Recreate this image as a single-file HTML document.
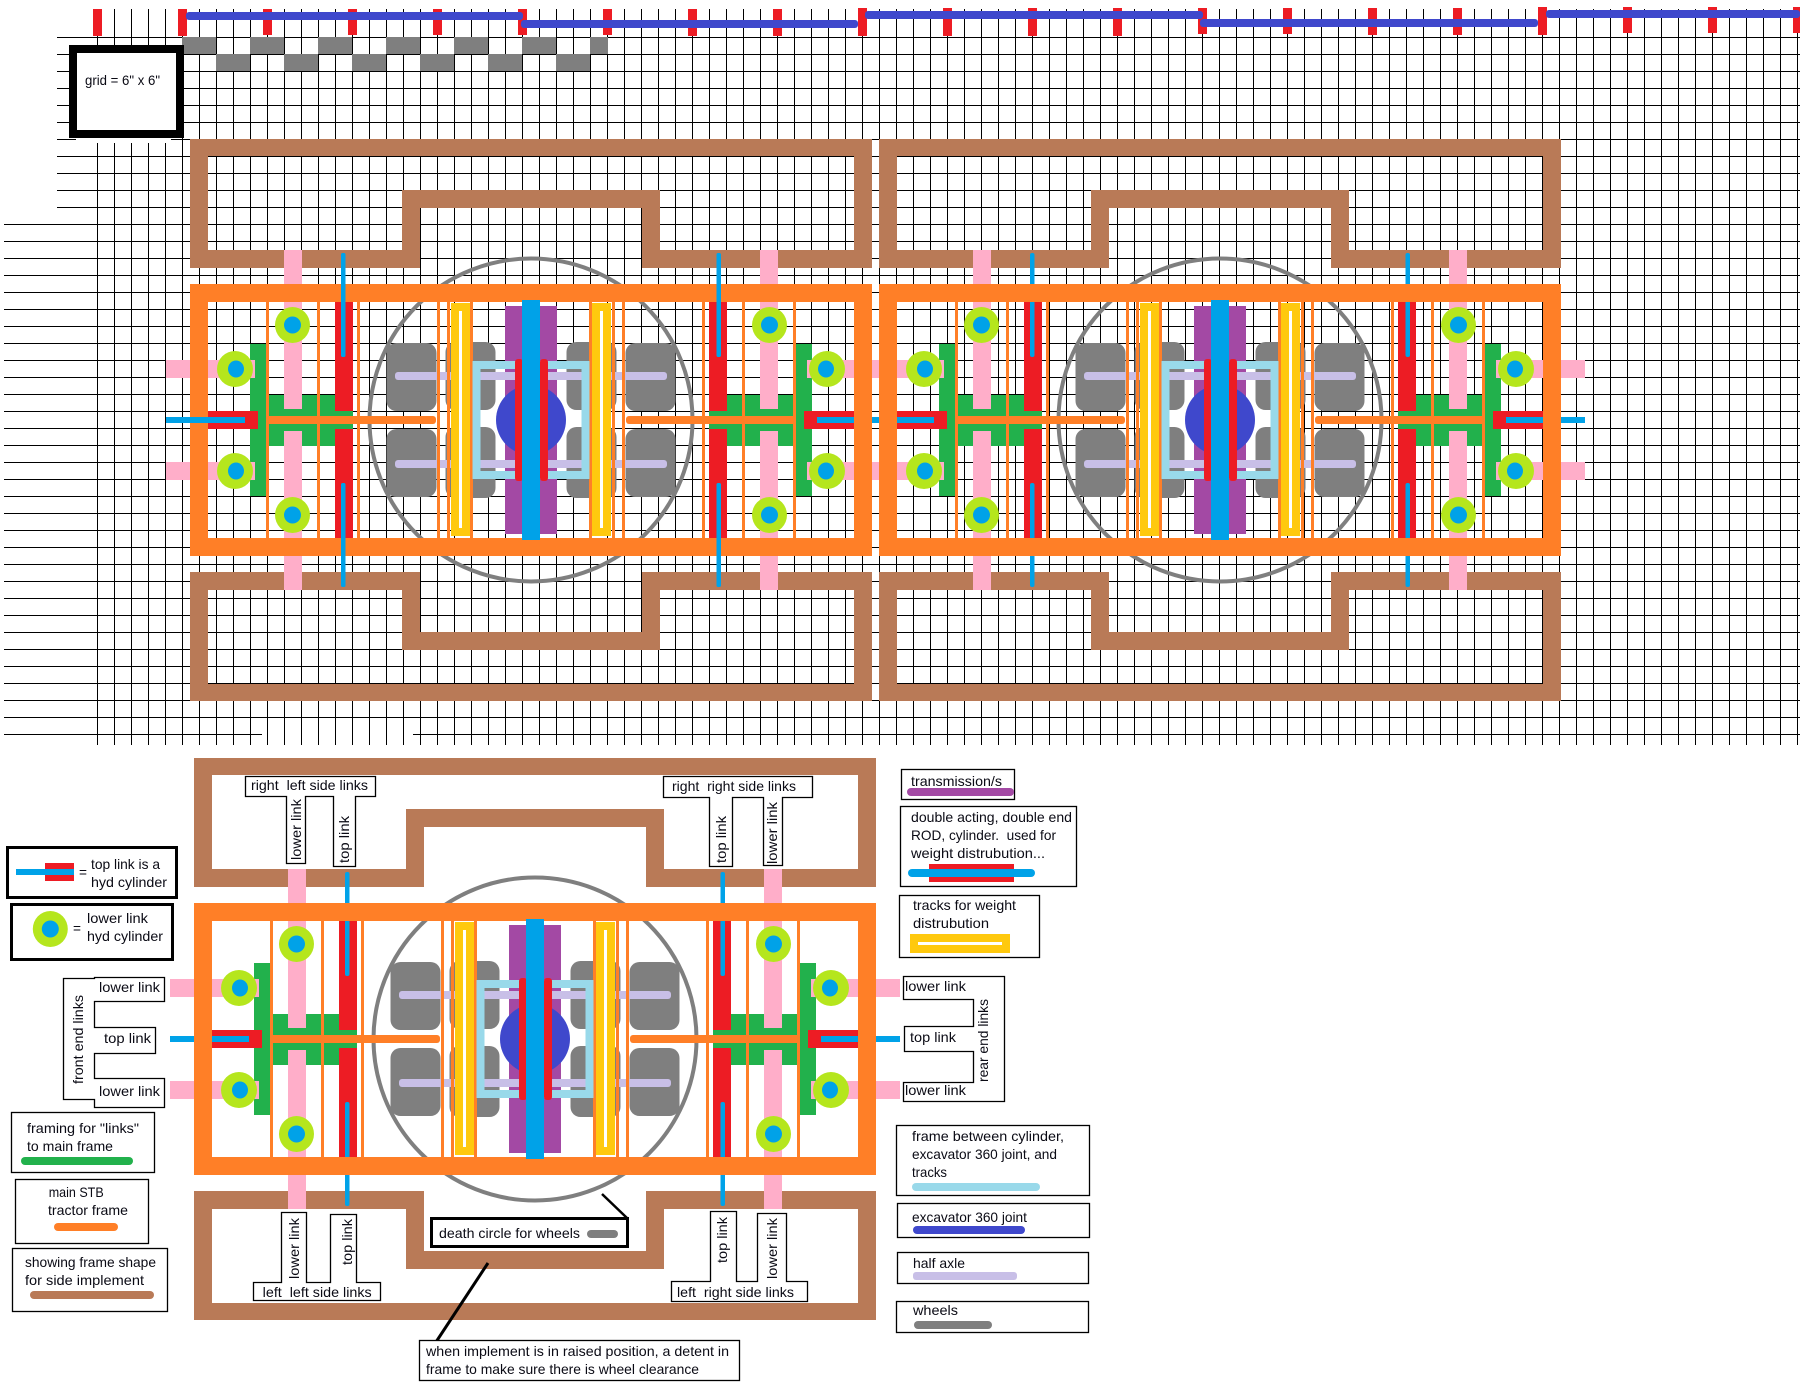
<!DOCTYPE html>
<html><head><meta charset="utf-8"><title>Diagram</title>
<style>
html,body{margin:0;padding:0;background:#fff}
svg{display:block}
text{font-family:"Liberation Sans",sans-serif;font-size:14px;fill:#0a0a14;white-space:pre}
.b{fill:#fff;stroke:#000;stroke-width:1.3}
.t{fill:#fff;stroke:#000;stroke-width:3}
</style></head><body>
<svg xmlns="http://www.w3.org/2000/svg" width="1800" height="1388" viewBox="0 0 1800 1388">
<defs>
<pattern id="gv" x="97" y="0" width="17" height="17" patternUnits="userSpaceOnUse"><rect width="1" height="17" fill="#000"/></pattern>
<pattern id="gh" x="0" y="37" width="17" height="17" patternUnits="userSpaceOnUse"><rect width="17" height="1" fill="#000"/></pattern>

<g id="brown" fill="#b97a57">
<rect x="190" y="139" width="682" height="17"/><rect x="190" y="139" width="18" height="129"/><rect x="854" y="139" width="18" height="129"/>
<rect x="190" y="250" width="230" height="18"/><rect x="642" y="250" width="230" height="18"/>
<rect x="402" y="190" width="258" height="18"/><rect x="402" y="190" width="18" height="78"/><rect x="642" y="190" width="18" height="78"/>
<rect x="190" y="572" width="230" height="18"/><rect x="642" y="572" width="230" height="18"/>
<rect x="190" y="572" width="18" height="129"/><rect x="854" y="572" width="18" height="129"/>
<rect x="190" y="684" width="682" height="17"/>
<rect x="402" y="632" width="258" height="18"/><rect x="402" y="572" width="18" height="78"/><rect x="642" y="572" width="18" height="78"/>
</g>

<g id="aL">
<rect x="250" y="344" width="16" height="152" fill="#22b14c"/>
<rect x="266" y="395" width="87" height="51" fill="#22b14c"/>
<rect x="284" y="250" width="18" height="159" fill="#ffaec9"/>
<rect x="284" y="431" width="18" height="159" fill="#ffaec9"/>
<rect x="166" y="360" width="89" height="18" fill="#ffaec9"/>
<rect x="166" y="462" width="89" height="18" fill="#ffaec9"/>
</g>

<g id="wL" fill="#7f7f7f">
<rect x="386.500" y="343" width="50" height="68" rx="10"/>
<rect x="386.500" y="429" width="50" height="68" rx="10"/>
<rect x="445.500" y="342" width="50" height="68" rx="10"/>
<rect x="445.500" y="427" width="50" height="71" rx="10"/>
</g>

<g id="cL">
<rect x="335" y="302" width="18" height="109" fill="#ed1c24"/>
<rect x="335" y="429" width="18" height="109" fill="#ed1c24"/>
<rect x="208" y="411" width="50" height="18" fill="#ed1c24"/>
<rect x="266" y="302" width="3" height="236" fill="#ff7f27"/>
<rect x="317" y="302" width="3" height="236" fill="#ff7f27"/>
<rect x="357" y="302" width="3" height="236" fill="#ff7f27"/>
<rect x="437" y="302" width="3" height="236" fill="#ff7f27"/>
<rect x="447" y="302" width="3" height="236" fill="#ff7f27"/>
<rect x="470" y="302" width="3" height="236" fill="#ff7f27"/>
<rect x="266" y="416" width="170" height="8" rx="3" fill="#ff7f27"/>
<rect x="451" y="303" width="19" height="233" fill="#ffc90e"/>
<rect x="459" y="311" width="3" height="217" fill="#fff"/>
<ellipse cx="292.500" cy="325" rx="17.500" ry="18" fill="#b5e61d"/><circle cx="292.500" cy="325" r="8.500" fill="#00a2e8"/>
<ellipse cx="292.500" cy="515" rx="17.500" ry="18" fill="#b5e61d"/><circle cx="292.500" cy="515" r="8.500" fill="#00a2e8"/>
<ellipse cx="235" cy="369" rx="18" ry="18" fill="#b5e61d"/><ellipse cx="236" cy="369" rx="8" ry="8.500" fill="#00a2e8"/>
<ellipse cx="235" cy="471" rx="18" ry="18" fill="#b5e61d"/><ellipse cx="236" cy="471" rx="8" ry="8.500" fill="#00a2e8"/>
</g>

<g id="rv" fill="#00a2e8">
<rect x="341" y="253" width="4.500" height="104" rx="2"/>
<rect x="341" y="483" width="4.500" height="104" rx="2"/>
</g>
<rect id="rh" x="166" y="417" width="79" height="6" fill="#00a2e8"/>

<g id="under">
<use href="#brown"/>
<use href="#aL"/>
<use href="#aL" transform="translate(1062,0) scale(-1,1)"/>
</g>

<g id="mid">
<circle cx="531" cy="420" r="161.500" fill="none" stroke="#7f7f7f" stroke-width="4"/>
<rect x="473" y="361" width="116" height="118" fill="#fff"/>
<use href="#wL"/><use href="#wL" transform="translate(1062,0) scale(-1,1)"/>
<rect x="505" y="306" width="52" height="228" fill="#a349a4"/>
<circle cx="531" cy="420" r="35" fill="#3f48cc"/>
<rect x="395" y="372" width="272" height="8" rx="3" fill="#c8bfe7"/>
<rect x="395" y="460" width="272" height="8" rx="3" fill="#c8bfe7"/>
<use href="#cL"/><use href="#cL" transform="translate(1062,0) scale(-1,1)"/>
<rect x="476.500" y="365" width="109" height="110" fill="none" stroke="#99d9ea" stroke-width="8"/>
<rect x="515" y="359" width="8" height="122" rx="3" fill="#ed1c24"/>
<rect x="540" y="359" width="8" height="122" rx="3" fill="#ed1c24"/>
</g>

<g id="rods">
<use href="#rv"/><use href="#rv" transform="translate(1062,0) scale(-1,1)"/>
<use href="#rh"/><use href="#rh" transform="translate(1062,0) scale(-1,1)"/>
</g>

<g id="frame">
<path fill="#ff7f27" fill-rule="evenodd" d="M190 284H872V556H190ZM208 302V538H854V302Z"/>
<rect x="522" y="300" width="18" height="240" fill="#00a2e8"/>
</g>
</defs>

<rect width="1800" height="1388" fill="#fff"/>

<!-- grid -->
<rect x="97" y="9" width="1703" height="736" fill="url(#gv)"/>
<rect x="57" y="37" width="1743" height="171" fill="url(#gh)"/>
<rect x="4" y="224" width="1796" height="510" fill="url(#gh)"/>
<rect x="4" y="734" width="258" height="1" fill="#000"/>
<rect x="413" y="734" width="1387" height="1" fill="#000"/>

<!-- checker -->
<g fill="#7f7f7f">
<rect x="182" y="37" width="34" height="17"/><rect x="250" y="37" width="34" height="17"/><rect x="318" y="37" width="34" height="17"/><rect x="386" y="37" width="34" height="17"/><rect x="454" y="37" width="34" height="17"/><rect x="522" y="37" width="34" height="17"/><rect x="590" y="37" width="18" height="17"/>
<rect x="216" y="54" width="34" height="17"/><rect x="284" y="54" width="34" height="17"/><rect x="352" y="54" width="34" height="17"/><rect x="420" y="54" width="34" height="17"/><rect x="488" y="54" width="34" height="17"/><rect x="556" y="54" width="34" height="17"/>
</g>

<!-- top ticks and bars -->
<g fill="#ed1c24">
<rect x="93" y="9" width="9" height="27"/><rect x="178" y="9" width="9" height="27"/><rect x="263" y="9" width="9" height="26"/><rect x="348" y="9" width="9" height="26"/><rect x="433" y="9" width="9" height="26"/><rect x="518" y="9" width="9" height="26"/>
<rect x="603" y="9" width="9" height="26"/><rect x="688" y="9" width="9" height="27"/><rect x="773" y="9" width="9" height="27"/><rect x="858" y="8" width="9" height="28"/>
<rect x="943" y="8" width="9" height="28"/><rect x="1028" y="8" width="9" height="28"/><rect x="1113" y="8" width="9" height="28"/><rect x="1198" y="8" width="9" height="26"/>
<rect x="1283" y="8" width="9" height="26"/><rect x="1368" y="8" width="9" height="27"/><rect x="1453" y="8" width="9" height="27"/><rect x="1538" y="7" width="9" height="28"/>
<rect x="1623" y="7" width="9" height="26"/><rect x="1708" y="7" width="9" height="26"/><rect x="1793" y="7" width="7" height="26"/>
</g>
<g fill="#3f48cc">
<rect x="186" y="12" width="337" height="8" rx="3"/>
<rect x="521" y="20" width="337" height="8" rx="3"/>
<rect x="865" y="11" width="338" height="8" rx="3"/>
<rect x="1200" y="19" width="338" height="8" rx="3"/>
<rect x="1546" y="10" width="254" height="8" rx="3"/>
</g>

<!-- grid key box -->
<rect x="76" y="138" width="95" height="5" fill="#fff"/>
<rect x="73" y="49" width="107" height="85" fill="#fff" stroke="#000" stroke-width="8"/>
<text x="85" y="85" textLength="75" lengthAdjust="spacingAndGlyphs">grid = 6" x 6"</text>

<!-- three units -->
<use href="#under"/><use href="#under" x="689"/><use href="#under" x="4" y="619"/>
<use href="#mid"/><use href="#rods"/>
<use href="#mid" x="689"/><use href="#rods" x="689"/>
<use href="#mid" x="4" y="619"/><use href="#rods" x="4" y="619"/>
<use href="#frame"/><use href="#frame" x="689"/><use href="#frame" x="4" y="619"/>
<use href="#rv"/><use href="#rv" transform="translate(1062,0) scale(-1,1)"/><use href="#rh"/>

<!-- left legend -->
<rect class="t" x="7.500" y="847.500" width="169" height="50"/>
<rect x="45" y="863" width="29" height="18" fill="#ed1c24"/><rect x="16" y="869" width="58" height="6" fill="#00a2e8"/>
<text x="79" y="877" textLength="8" lengthAdjust="spacingAndGlyphs">=</text>
<text x="91" y="869" textLength="69" lengthAdjust="spacingAndGlyphs">top link is a</text>
<text x="91" y="887" textLength="76" lengthAdjust="spacingAndGlyphs">hyd cylinder</text>

<rect class="t" x="11.500" y="904.500" width="161" height="55"/>
<ellipse cx="50.300" cy="929" rx="17.500" ry="18" fill="#b5e61d"/><circle cx="50.300" cy="929" r="8.500" fill="#00a2e8"/>
<text x="73" y="933" textLength="8" lengthAdjust="spacingAndGlyphs">=</text>
<text x="87" y="923" textLength="61" lengthAdjust="spacingAndGlyphs">lower link</text>
<text x="87" y="941" textLength="76" lengthAdjust="spacingAndGlyphs">hyd cylinder</text>

<polygon class="b" points="63.500,978.500 94.500,978.500 94.500,977.500 164.500,977.500 164.500,1001.500 94.500,1001.500 94.500,1027.500 155.500,1027.500 155.500,1053.500 94.500,1053.500 94.500,1078.500 164.500,1078.500 164.500,1107.500 94.500,1107.500 94.500,1099.500 63.500,1099.500"/>
<text x="99" y="992" textLength="61" lengthAdjust="spacingAndGlyphs">lower link</text>
<text x="104" y="1043" textLength="47" lengthAdjust="spacingAndGlyphs">top link</text>
<text x="99" y="1096" textLength="61" lengthAdjust="spacingAndGlyphs">lower link</text>
<text transform="translate(83,1084) rotate(-90)" textLength="89" lengthAdjust="spacingAndGlyphs">front end links</text>

<rect class="b" x="11.500" y="1112.500" width="143" height="60"/>
<text x="27" y="1133" textLength="112" lengthAdjust="spacingAndGlyphs">framing for "links"</text>
<text x="27" y="1151" textLength="86" lengthAdjust="spacingAndGlyphs">to main frame</text>
<rect x="21" y="1157" width="112" height="8" rx="4" fill="#22b14c"/>

<rect class="b" x="15.500" y="1179.500" width="133" height="64"/>
<text x="48.700" y="1197" textLength="55" lengthAdjust="spacingAndGlyphs">main STB</text>
<text x="48" y="1215" textLength="80" lengthAdjust="spacingAndGlyphs">tractor frame</text>
<rect x="54" y="1223" width="64" height="8" rx="4" fill="#ff7f27"/>

<rect class="b" x="12.500" y="1248.500" width="155" height="63"/>
<text x="25" y="1267" textLength="131" lengthAdjust="spacingAndGlyphs">showing frame shape</text>
<text x="25" y="1285" textLength="119" lengthAdjust="spacingAndGlyphs">for side implement</text>
<rect x="30" y="1291" width="124" height="8" rx="4" fill="#b97a57"/>

<!-- side link T labels -->
<polygon class="b" points="245.500,776.500 375.500,776.500 375.500,796.500 355.500,796.500 355.500,866.500 333.500,866.500 333.500,796.500 305.500,796.500 305.500,863.500 286.500,863.500 286.500,796.500 245.500,796.500"/>
<text x="251" y="790" textLength="117" lengthAdjust="spacingAndGlyphs">right  left side links</text>
<text transform="translate(301,860) rotate(-90)" textLength="61" lengthAdjust="spacingAndGlyphs">lower link</text>
<text transform="translate(349,863) rotate(-90)" textLength="47" lengthAdjust="spacingAndGlyphs">top link</text>

<polygon class="b" points="663.500,776.500 812.500,776.500 812.500,797.500 782.500,797.500 782.500,865.500 763.500,865.500 763.500,797.500 732.500,797.500 732.500,866.500 709.500,866.500 709.500,797.500 663.500,797.500"/>
<text x="672" y="791" textLength="124" lengthAdjust="spacingAndGlyphs">right  right side links</text>
<text transform="translate(726,863) rotate(-90)" textLength="47" lengthAdjust="spacingAndGlyphs">top link</text>
<text transform="translate(777,864) rotate(-90)" textLength="62" lengthAdjust="spacingAndGlyphs">lower link</text>

<polygon class="b" points="281.500,1212.500 306.500,1212.500 306.500,1282.500 330.500,1282.500 330.500,1214.500 356.500,1214.500 356.500,1282.500 380.500,1282.500 380.500,1300.500 253.500,1300.500 253.500,1282.500 281.500,1282.500"/>
<text x="262.700" y="1297" textLength="109" lengthAdjust="spacingAndGlyphs">left  left side links</text>
<text transform="translate(299,1279) rotate(-90)" textLength="61" lengthAdjust="spacingAndGlyphs">lower link</text>
<text transform="translate(352,1265) rotate(-90)" textLength="46" lengthAdjust="spacingAndGlyphs">top link</text>

<polygon class="b" points="710.500,1211.500 736.500,1211.500 736.500,1281.500 757.500,1281.500 757.500,1213.500 786.500,1213.500 786.500,1281.500 807.500,1281.500 807.500,1301.500 671.500,1301.500 671.500,1281.500 710.500,1281.500"/>
<text x="677" y="1297" textLength="117" lengthAdjust="spacingAndGlyphs">left  right side links</text>
<text transform="translate(727,1263) rotate(-90)" textLength="46" lengthAdjust="spacingAndGlyphs">top link</text>
<text transform="translate(777,1279) rotate(-90)" textLength="61" lengthAdjust="spacingAndGlyphs">lower link</text>

<!-- death circle note -->
<line x1="602" y1="1194" x2="627" y2="1218" stroke="#000" stroke-width="2.500"/>
<rect class="t" x="431.500" y="1218.500" width="196" height="28"/>
<text x="439" y="1238" textLength="141" lengthAdjust="spacingAndGlyphs">death circle for wheels</text>
<rect x="587" y="1230" width="31" height="8" rx="4" fill="#7f7f7f"/>

<line x1="488" y1="1263" x2="436" y2="1342" stroke="#000" stroke-width="3"/>
<rect class="b" x="419.500" y="1340.500" width="320" height="40"/>
<text x="426" y="1356" textLength="303" lengthAdjust="spacingAndGlyphs">when implement is in raised position, a detent in</text>
<text x="426" y="1374" textLength="273" lengthAdjust="spacingAndGlyphs">frame to make sure there is wheel clearance</text>

<!-- right legend -->
<rect class="b" x="901.500" y="769.500" width="113" height="30"/>
<text x="911" y="786" textLength="91" lengthAdjust="spacingAndGlyphs">transmission/s</text>
<rect x="907" y="788" width="107" height="8" rx="4" fill="#a349a4"/>

<rect class="b" x="900.500" y="806.500" width="176" height="80"/>
<text x="911" y="822" textLength="161" lengthAdjust="spacingAndGlyphs">double acting, double end</text>
<text x="911" y="840" textLength="145" lengthAdjust="spacingAndGlyphs">ROD, cylinder.  used for</text>
<text x="911" y="858" textLength="134" lengthAdjust="spacingAndGlyphs">weight distrubution...</text>
<rect x="929" y="864" width="85" height="18" fill="#ed1c24"/>
<rect x="908" y="869" width="127" height="8" rx="4" fill="#00a2e8"/>

<rect class="b" x="899.500" y="895.500" width="140" height="62"/>
<text x="913" y="910" textLength="103" lengthAdjust="spacingAndGlyphs">tracks for weight</text>
<text x="913" y="928" textLength="76" lengthAdjust="spacingAndGlyphs">distrubution</text>
<rect x="910" y="934" width="100" height="19" fill="#ffc90e"/><rect x="918" y="942" width="84" height="3" fill="#fff"/>

<polygon class="b" points="903.500,976.500 1004.500,976.500 1004.500,1101.500 903.500,1101.500 903.500,1082.500 973.500,1082.500 973.500,1051.500 904.500,1051.500 904.500,1026.500 973.500,1026.500 973.500,999.500 903.500,999.500"/>
<text x="905" y="991" textLength="61" lengthAdjust="spacingAndGlyphs">lower link</text>
<text x="910" y="1042" textLength="46" lengthAdjust="spacingAndGlyphs">top link</text>
<text x="905" y="1095" textLength="61" lengthAdjust="spacingAndGlyphs">lower link</text>
<text transform="translate(988,1082) rotate(-90)" textLength="83" lengthAdjust="spacingAndGlyphs">rear end links</text>

<rect class="b" x="896.500" y="1125.500" width="193" height="70"/>
<text x="912" y="1141" textLength="152" lengthAdjust="spacingAndGlyphs">frame between cylinder,</text>
<text x="912" y="1159" textLength="145" lengthAdjust="spacingAndGlyphs">excavator 360 joint, and</text>
<text x="912" y="1177" textLength="35" lengthAdjust="spacingAndGlyphs">tracks</text>
<rect x="912" y="1183" width="128" height="8" rx="4" fill="#99d9ea"/>

<rect class="b" x="897.500" y="1203.500" width="192" height="34"/>
<text x="912" y="1222" textLength="115" lengthAdjust="spacingAndGlyphs">excavator 360 joint</text>
<rect x="913" y="1226" width="112" height="8" rx="4" fill="#3f48cc"/>

<rect class="b" x="897.500" y="1252.500" width="191" height="31"/>
<text x="913" y="1268" textLength="52" lengthAdjust="spacingAndGlyphs">half axle</text>
<rect x="913" y="1272" width="104" height="8" rx="3" fill="#c8bfe7"/>

<rect class="b" x="896.500" y="1301.500" width="192" height="31"/>
<text x="913" y="1315" textLength="45" lengthAdjust="spacingAndGlyphs">wheels</text>
<rect x="914" y="1321" width="78" height="8" rx="4" fill="#7f7f7f"/>
</svg>
</body></html>
